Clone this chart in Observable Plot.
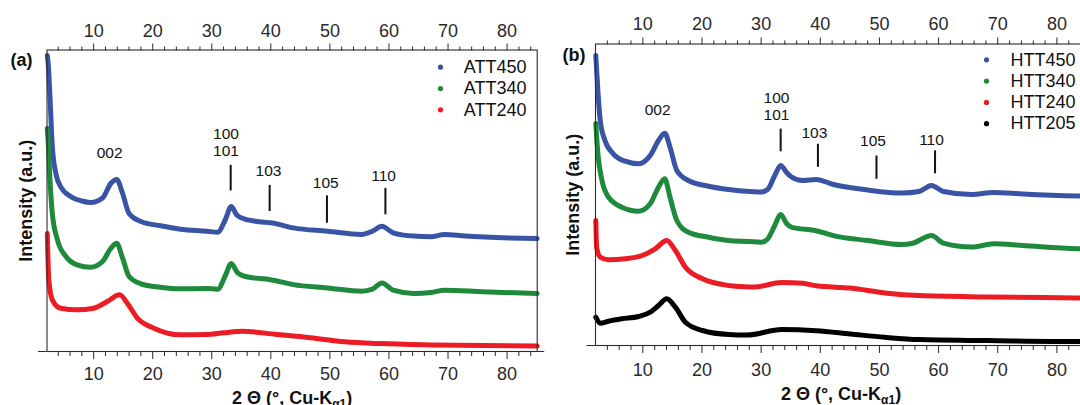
<!DOCTYPE html>
<html><head><meta charset="utf-8">
<script src="https://cdn.jsdelivr.net/npm/d3@7"></script>
<script src="https://cdn.jsdelivr.net/npm/@observablehq/plot@0.6"></script>
<style>
html,body{margin:0;padding:0;background:#fff;overflow:hidden;}
#wrap{position:relative;width:1080px;height:405px;overflow:hidden;}
#wrap svg{position:absolute;top:0;}
</style></head><body><div id="wrap"></div>
<script>
// ---------- data (2θ in degrees, intensity in arbitrary units) ----------
const thetaMajor = [10, 20, 30, 40, 50, 60, 70, 80];
const thetaMinor = [4,6,8,12,14,16,18,22,24,26,28,32,34,36,38,42,44,46,48,52,54,56,58,62,64,66,68,72,74,76,78,82,84];

const seriesA = ["ATT450", "ATT340", "ATT240"];
const seriesB = ["HTT450", "HTT340", "HTT240", "HTT205"];
const seriesColors = ["#3a54a5", "#1f8a3c", "#ec1c24", "#000000"];

const att450 = [[2.15,296],[2.3,288],[2.6,255],[3.0,205],[3.6,178],[4.4,165],[6.1,155],[8,150.5],[9.5,149],[11.5,153.5],[12.9,168],[13.9,172],[14.9,158],[16,138],[18,130],[21.3,125.7],[24.7,122.3],[29.2,120.3],[31,119.3],[32.3,132],[33.3,145],[34.2,136.7],[35.1,133.4],[37.4,130.2],[40.3,128.5],[43.8,123.6],[49.6,120.3],[55.4,117.1],[57.2,120.3],[58.8,125.2],[60.7,118.7],[64.2,115.4],[67.1,114.8],[69.4,117.1],[72.9,115.4],[85.1,113]];
const att340 = [[2.15,223],[2.3,210],[2.6,172],[3.0,138],[3.85,112],[5.3,95],[7.2,86.7],[9.5,84.3],[11.5,90],[12.9,103],[13.9,108.3],[14.9,93.3],[16,75],[18,67.7],[21.3,64.3],[24.7,62.7],[29.2,63],[31,62.3],[32.3,76],[33.3,88],[34.3,79.3],[35.1,76.1],[37.4,73.4],[39.7,72.1],[43.8,66.9],[49.6,63.6],[55.4,60.3],[57.2,62.3],[58.8,68.5],[60.7,61.3],[64.2,58],[67.1,59],[69.4,61.3],[75.9,59.7],[85.1,58]];
const att240 = [[2.15,118],[2.4,72],[3.0,51.7],[4.4,43.3],[7.2,41.7],[10,43.3],[12.3,50],[14.4,56.7],[15.7,48.3],[17.4,33.3],[20.2,23.3],[24.7,16.7],[29.2,17.1],[32,18.7],[35.1,20.3],[40.9,17.1],[46.7,13.8],[52.5,9.8],[58.4,7.9],[67.1,6.6],[85.1,5.6]];

const htt450 = [[2.05,290],[2.4,255],[2.8,225],[3.6,205],[5.0,191.7],[7.0,184.3],[9.3,181.7],[11.25,190],[12.65,205],[13.7,212.3],[14.6,198.3],[15.75,175],[17.7,165],[21.1,159.3],[24.5,156],[28,154],[30,153.5],[31.1,156],[32.3,170],[33.3,180],[34.3,173],[35,169],[37,165],[39.3,166],[42.2,161],[48,155.5],[53.8,152.5],[56.7,154],[58.8,160],[60.8,154],[65.5,151],[69.3,153],[74.2,151.5],[83.5,149.5],[85,149.3]];
const htt340 = [[2.05,222],[2.4,192],[3.1,165],[4.2,148.3],[6.45,138.3],[9.3,134.3],[11.25,141.7],[12.65,158.3],[13.7,166.7],[14.6,148.3],[15.75,125],[17.7,113.3],[21.1,108.3],[24.5,105],[28,104],[30,103.3],[31.1,106.6],[32.3,120],[33.3,131],[34.3,122],[35.2,118.1],[39.3,114.8],[42.2,109.9],[48,105],[53.8,101],[55.6,102.3],[58.8,110],[60.8,102.3],[65.5,98.4],[69.3,101.7],[74.2,100],[83.5,96.8],[85,96.5]];
const htt240 = [[2.05,125],[2.2,98.3],[2.8,88.3],[4.2,85.7],[7.0,86.7],[9.9,90],[12.1,96.7],[14.05,105],[15.5,95],[17.2,78.3],[20.1,66.7],[24.5,60],[26.5,59],[28.8,58.4],[33.5,63],[37,62.3],[39.3,59.7],[45.1,57.4],[50.9,52.5],[56.7,49.9],[68.4,48.6],[83.5,47.6],[85,47.5]];
const htt205 = [[2.05,28.3],[2.8,22.3],[4.2,24.3],[6.45,26.7],[9.3,29],[11.25,33.3],[12.65,40],[14.05,46.7],[15.5,38.3],[17.2,23.3],[20.1,15],[24.5,11],[27.6,10.5],[33.5,16],[39.3,14.8],[45.1,11.5],[50.9,8.2],[56.7,5.9],[68.4,4.9],[83.5,3.9],[85,3.9]];

// reflection (hkl) annotations
const hklText = ["002", "100\n101", "103", "105", "110"];
const hklLabelThetaA = [12.7, 32.4, 39.6, 49.3, 59.1];
const hklLabelIntA = [193.3, 195.9, 175.3, 163.1, 170.4];
const hklTickThetaA = [33.2, 39.8, 49.5, 59.4];
const hklTickLowA = [160.5, 140, 128.3, 136.7];
const hklTickHighA = [186.1, 166.1, 155.6, 163.1];

const hklLabelThetaB = [12.5, 32.6, 39.0, 48.9, 58.8];
const hklLabelIntB = [231, 225.4, 207.3, 199.2, 200.2];
const hklTickThetaB = [33.3, 39.6, 49.5, 59.4];
const hklTickLowB = [193.7, 178.2, 166.2, 171.7];
const hklTickHighB = [216.4, 201.2, 189.5, 194.7];

const xTitle = "2 Θ (°, Cu-Kα1)";
const yTitle = "Intensity (a.u.)";

// ---------- drawing ----------
const FONT = "'Liberation Sans', Arial, Helvetica, sans-serif";
const AX = "#2a2a2a";

function panel(cfg) {
  const lines = cfg.series.map((d, i) =>
    Plot.line(d, {x: p => p[0], y: p => p[1], stroke: seriesColors[i], strokeWidth: 5,
      curve: "monotone-x", strokeLinejoin: "round", strokeLinecap: "round"}));
  const labels = hklText.map((t, i) => ({t, x: cfg.labelTheta[i], y: cfg.labelInt[i]}));
  const ticks = cfg.tickTheta.map((x, i) => ({x, y1: cfg.tickLow[i], y2: cfg.tickHigh[i]}));
  const legend = [];
  cfg.names.forEach((name, i) => {
    legend.push(Plot.dot([name], {frameAnchor: "top-right", dx: cfg.legDot, dy: cfg.legTop + i * 21.3,
      r: 2.6, fill: seriesColors[i], stroke: null}));
    legend.push(Plot.text([name], {text: d => d, frameAnchor: "top-right", dx: cfg.legText, dy: cfg.legTop + i * 21.3,
      textAnchor: "start", lineAnchor: "middle", fontSize: 18, fill: "#111"}));
  });
  const yAxes = [Plot.axisY({anchor: "left", ticks: [0], tickSize: 8.5, tickFormat: () => "", label: null, color: AX})];
  if (cfg.rightTick) yAxes.push(Plot.axisY({anchor: "right", ticks: [0], tickSize: 6.5, tickFormat: () => "", label: null, color: AX}));
  const svg = Plot.plot({
    width: cfg.width, height: 405,
    marginLeft: cfg.ml, marginRight: cfg.mr, marginTop: cfg.mt, marginBottom: cfg.mb,
    style: `background: transparent; max-width: none; font-family: ${FONT}; font-size: 18px; color: #111; left: ${cfg.left}px;`,
    x: {domain: cfg.xdom, label: null},
    y: {domain: cfg.ydom, label: null},
    marks: [
      ...lines,
      Plot.frame({stroke: AX, strokeWidth: 1.1}),
      Plot.axisX({anchor: "top", ticks: thetaMajor, tickSize: 7, tickPadding: cfg.topPad, fontSize: 18, label: null, color: AX}),
      Plot.axisX({anchor: "top", ticks: thetaMinor, tickSize: 4, tickFormat: () => "", label: null, color: AX}),
      Plot.axisX({anchor: "bottom", ticks: thetaMajor, tickSize: 8, tickPadding: cfg.botPad, fontSize: 18, label: null, color: AX}),
      Plot.axisX({anchor: "bottom", ticks: thetaMinor, tickSize: 5, tickFormat: () => "", label: null, color: AX}),
      ...yAxes,
      Plot.ruleX(ticks, {x: "x", y1: "y1", y2: "y2", stroke: "#111", strokeWidth: 2}),
      Plot.text(labels, {x: "x", y: "y", text: "t", lineAnchor: "bottom", fontSize: 15.5, lineHeight: 1.1, fill: "#111"}),
      ...legend,
      Plot.text([cfg.tag], {text: d => d, frameAnchor: "top-left", dx: cfg.tagDx, dy: cfg.tagDy,
        textAnchor: "start", lineAnchor: "middle", fontSize: 18, fontWeight: "bold", fill: "#111"}),
      Plot.text([yTitle], {text: d => d, frameAnchor: "left", dx: cfg.yTitleDx, rotate: -90,
        textAnchor: "middle", lineAnchor: "middle", fontSize: 18, fontWeight: "bold", fill: "#111"}),
      Plot.text([xTitle], {text: d => d, frameAnchor: "bottom", dy: cfg.xTitleDy,
        textAnchor: "middle", lineAnchor: "bottom", fontSize: 18, fontWeight: "bold", fill: "#111"})
    ]
  });
  // subscript for K-alpha-1
  d3.select(svg).selectAll("text").filter(function() { return this.textContent === xTitle; })
    .each(function() {
      const t = d3.select(this);
      t.text(null);
      t.append("tspan").text("2 Θ (°, Cu-K");
      t.append("tspan").attr("font-size", "12px").attr("dy", "4").text("α1");
      t.append("tspan").attr("dy", "-4").text(")");
    });
  return svg;
}

const wrap = document.getElementById("wrap");
wrap.appendChild(panel({
  series: [att450, att340, att240], names: seriesA, tag: "(a)",
  width: 546, left: 0, ml: 46.5, mr: 9.3, mt: 49.5, mb: 54,
  xdom: [2.1, 85.1], ydom: [0, 301.5],
  labelTheta: hklLabelThetaA, labelInt: hklLabelIntA,
  tickTheta: hklTickThetaA, tickLow: hklTickLowA, tickHigh: hklTickHighA,
  legDot: -96.7, legText: -73.4, legTop: 17.2,
  tagDx: -36.5, tagDy: 10.5, yTitleDx: -20.7, xTitleDy: 52,
  topPad: 6, botPad: 8, rightTick: true
}));
wrap.appendChild(panel({
  series: [htt450, htt340, htt240, htt205], names: seriesB, tag: "(b)",
  width: 560, left: 540, ml: 55, mr: 14, mt: 43.5, mb: 60,
  xdom: [2.0, 85.0], ydom: [0, 301.5],
  labelTheta: hklLabelThetaB, labelInt: hklLabelIntB,
  tickTheta: hklTickThetaB, tickLow: hklTickLowB, tickHigh: hklTickHighB,
  legDot: -100, legText: -76, legTop: 15.8,
  tagDx: -33, tagDy: 11.5, yTitleDx: -22.3, xTitleDy: 54,
  topPad: 7, botPad: 9.5, rightTick: false
}));
</script></body></html>
